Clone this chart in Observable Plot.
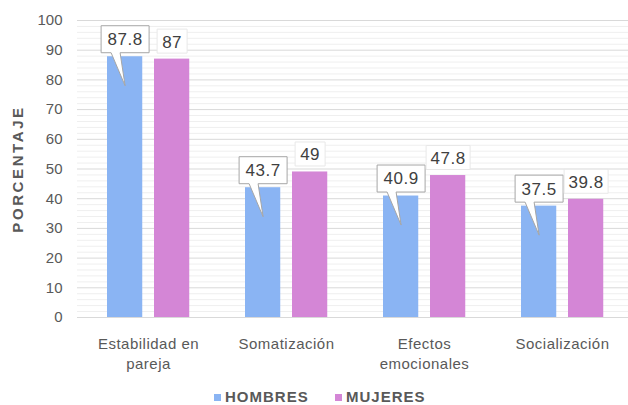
<!DOCTYPE html>
<html><head><meta charset="utf-8">
<script src="https://cdn.jsdelivr.net/npm/d3@7"></script>
<script src="https://cdn.jsdelivr.net/npm/@observablehq/plot@0.6"></script>
<style>
body{margin:0;background:#fff;font-family:"Liberation Sans",Arial,sans-serif;}
#wrap{position:relative;width:628px;height:405px;overflow:hidden;}
g[aria-label="x-axis tick label"] text{letter-spacing:0.5px;}
g[aria-label="y-axis label"] text{font-weight:bold;letter-spacing:2.6px;font-size:15px;}
g[aria-label="text"] text{letter-spacing:0.5px;}
.legend{position:absolute;top:388px;left:0;width:628px;height:18px;font:bold 15px "Liberation Sans",Arial,sans-serif;color:#595959;letter-spacing:1px;line-height:18px;}
.item{position:absolute;top:0;display:flex;align-items:center;height:18px;}
.sw{width:7px;height:7px;margin-right:4px;}
</style></head>
<body>
<div id="wrap"></div>
<script>
const categories = ["Estabilidad en pareja", "Somatización", "Efectos emocionales", "Socialización"];
const tickLabels = ["Estabilidad en\npareja", "Somatización", "Efectos\nemocionales", "Socialización"];
const seriesNames = ["HOMBRES", "MUJERES"];
const hombres = [87.8, 43.7, 40.9, 37.5];
const mujeres = [87, 49, 47.8, 39.8];
const yTicks = [0, 10, 20, 30, 40, 50, 60, 70, 80, 90, 100];
const colors = ["#8ab4f3", "#d486d6"];

const hRows = categories.map((c, i) => ({cat: c, value: hombres[i]}));
const mRows = categories.map((c, i) => ({cat: c, value: mujeres[i]}));
const minorTicks = d3.range(0, 100, 2).filter(v => v % 10 !== 0);

const callout = {draw(ctx) {
  ctx.moveTo(-14, -4); ctx.lineTo(-24, -4); ctx.lineTo(-24, -31);
  ctx.lineTo(24, -31); ctx.lineTo(24, -4); ctx.lineTo(-5, -4);
  ctx.lineTo(0, 29); ctx.closePath();
}};
const pinkBox = w => ({draw(ctx) { ctx.rect(-w / 2, -30, w, 24); }});

const plot = Plot.plot({
  width: 628,
  height: 372,
  marginTop: 20,
  marginBottom: 55,
  marginLeft: 77,
  marginRight: 0,
  style: {fontFamily: "Liberation Sans, Arial, sans-serif", color: "#595959", background: "#fff"},
  x: {domain: categories, range: [77, 632], padding: 0},
  y: {domain: [0, 100]},
  marks: [
    Plot.ruleY(minorTicks, {stroke: "#efefef"}),
    Plot.ruleY(yTicks, {stroke: "#d9d9d9"}),
    Plot.axisY(yTicks, {tickSize: 0, tickPadding: 15, fontSize: 15, label: "PORCENTAJE", labelAnchor: "center", labelOffset: 65, labelArrow: "none"}),
    Plot.axisX({tickSize: 0, tickPadding: 17, fontSize: 15, lineHeight: 1.33, label: null,
      tickFormat: d => tickLabels[categories.indexOf(d)]}),
    Plot.barY(hRows, {x: "cat", y: "value", fill: colors[0], insetLeft: 28, insetRight: 74.75}),
    Plot.barY(mRows, {x: "cat", y: "value", fill: colors[1], insetLeft: 75, insetRight: 27.75}),
    Plot.dot(hRows, {x: "cat", y: "value", dx: -23.4, r: 4, symbol: callout, fill: "white", stroke: "#a6a6a6", strokeWidth: 1}),
    Plot.dot(mRows.filter(d => String(d.value).length <= 2), {x: "cat", y: "value", dx: 23.6, r: 4, symbol: pinkBox(30), fill: "white", stroke: "#e8e8e8", strokeWidth: 1}),
    Plot.dot(mRows.filter(d => String(d.value).length > 2), {x: "cat", y: "value", dx: 23.6, r: 4, symbol: pinkBox(44), fill: "white", stroke: "#e8e8e8", strokeWidth: 1}),
    Plot.text(hRows, {x: "cat", y: "value", text: d => String(d.value), dx: -23.4, dy: -17, fontSize: 17, fill: "#404040"}),
    Plot.text(mRows, {x: "cat", y: "value", text: d => String(d.value), dx: 23.6, dy: -17, fontSize: 17, fill: "#404040"})
  ]
});

const wrap = document.getElementById("wrap");
wrap.appendChild(plot);
const legend = document.createElement("div");
legend.className = "legend";
const lefts = [214, 335];
seriesNames.forEach((name, i) => {
  const item = document.createElement("div");
  item.className = "item";
  item.style.left = lefts[i] + "px";
  const sw = document.createElement("span");
  sw.className = "sw";
  sw.style.background = colors[i];
  const t = document.createElement("span");
  t.textContent = name;
  item.appendChild(sw);
  item.appendChild(t);
  legend.appendChild(item);
});
wrap.appendChild(legend);
</script>
</body></html>
